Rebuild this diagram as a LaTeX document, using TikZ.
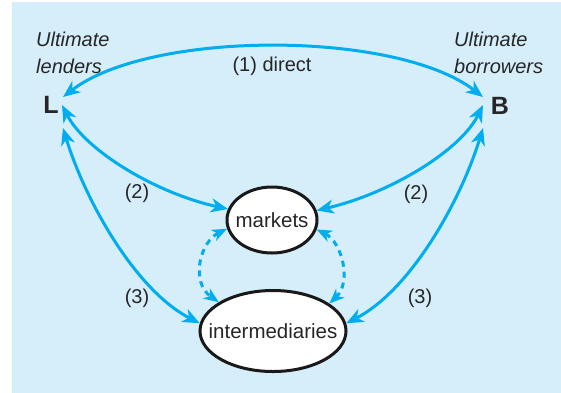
\documentclass[tikz,border=0pt]{standalone}
\usepackage{fontspec}
\setmainfont{Liberation Sans}
\usetikzlibrary{arrows.meta,shapes.geometric}
\definecolor{bgblue}{RGB}{214,237,250}
\definecolor{arrowblue}{RGB}{0,174,239}
\begin{document}
\begin{tikzpicture}[x=1pt,y=-1pt,
  flow/.style={draw=arrowblue, line width=3pt,
    {Stealth[length=17pt,width=14pt,inset=5pt]}-{Stealth[length=17pt,width=14pt,inset=5pt]}},
  dflow/.style={draw=arrowblue, line width=3pt, dash pattern=on 6pt off 5pt,
    {Stealth[length=15pt,width=12pt,inset=4.5pt]}-{Stealth[length=15pt,width=12pt,inset=4.5pt]}},
  oval/.style={ellipse, draw=black!90, line width=3pt, fill=white, inner sep=0pt,
    font=\fontsize{20.5}{24}\selectfont, text=black!85},
  lab/.style={font=\fontsize{20}{24}\selectfont, inner sep=0pt, text=black!85},
  ital/.style={font=\fontsize{20}{24}\selectfont\itshape, inner sep=0pt, anchor=base west, text=black!85},
  big/.style={font=\fontsize{25}{30}\selectfont\bfseries, inner sep=0pt, text=black!85}]
\useasboundingbox (0,0) rectangle (561,392);
\fill[bgblue] (12,2) rectangle (570,400);

\node[big] (L) at (51,105) {L};
\node[big] (B) at (500,106) {B};
\node[oval, minimum width=90pt, minimum height=66pt] (mk) at (272,220) {\makebox[0pt]{markets}};
\node[oval, minimum width=146pt, minimum height=81pt] (int) at (273,331) {\makebox[0pt]{intermediaries}};

\node[ital] (ul1) at (36,46) {Ultimate};
\node[ital] (ul2) at (36,73) {lenders};
\node[ital] (ub1) at (454,46) {Ultimate};
\node[ital] (ub2) at (454,73) {borrowers};

\node[lab] (d1) at (272,66) {(1) direct};
\node[lab] (l2) at (137,193) {(2)};
\node[lab] (r2) at (416,194) {(2)};
\node[lab] (l3) at (137,298) {(3)};
\node[lab] (r3) at (420,298) {(3)};

\draw[flow] ([shift={(12,-8)}]L.center) .. controls (150,30) and (396,30) .. ([shift={(-17,-9)}]B.center);
\draw[flow] ([shift={(11,0)}]L.center) .. controls (85,150) and (155,193) .. (mk.166);
\draw[flow] ([shift={(12,23)}]L.center) .. controls (85,200) and (135,290) .. (int.174);
\draw[flow] ([shift={(-17,-1)}]B.center) .. controls (461,150) and (391,193) .. (mk.12);
\draw[flow] ([shift={(-17,22)}]B.center) .. controls (461,200) and (411,290) .. (int.6);
\draw[dflow] (mk.191) .. controls (200,242) and (190,282) .. (int.152);
\draw[dflow] (mk.-12) .. controls (342,242) and (352,282) .. (int.26);
\end{tikzpicture}
\end{document}
